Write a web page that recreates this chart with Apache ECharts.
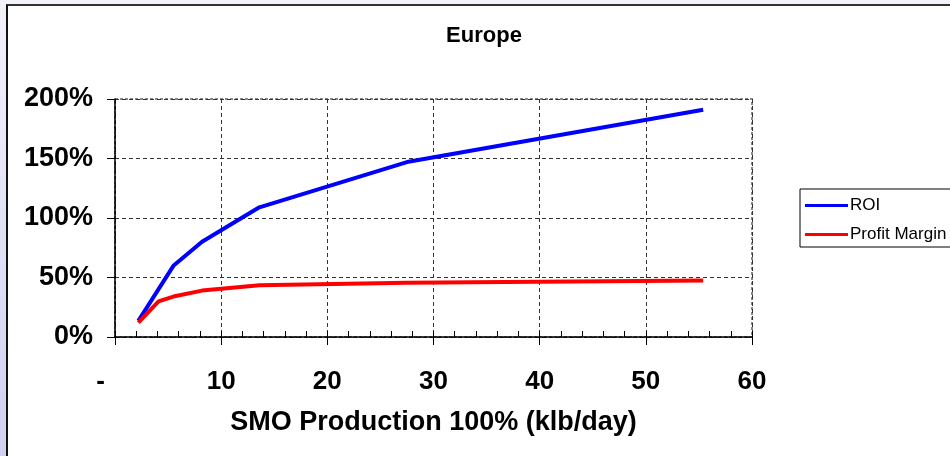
<!DOCTYPE html>
<html>
<head>
<meta charset="utf-8">
<script src="https://cdn.jsdelivr.net/npm/echarts@6/dist/echarts.min.js"></script>
<style>
  html, body { margin: 0; padding: 0; width: 950px; height: 456px; overflow: hidden; }
  body { background: linear-gradient(to bottom, #f2f2fb 0%, #d0d0f0 100%); position: relative; }
  #panel { position: absolute; left: 6px; top: 4px; width: 944px; height: 452px; background: #ffffff;
           border-top: 2px solid #333; border-left: 2px solid #111; box-sizing: border-box; }
  #chart { position: absolute; left: 0; top: 0; width: 950px; height: 456px; }
</style>
</head>
<body>
<div id="panel"></div>
<div id="chart"></div>
<script>
const titleText = 'Europe';
const xAxisName = 'SMO Production 100% (klb/day)';
const seriesNames = ['ROI', 'Profit Margin'];
const roiX = [2.2, 5.5, 8.2, 13.6, 27.5, 55.4];
const roiY = [13.5, 59.8, 80, 109, 147, 191];
const pmX = [2.2, 4.1, 5.5, 8.2, 13.6, 27.5, 55.4];
const pmY = [12, 30, 34, 39, 43.5, 45.5, 47.5];
const xTicks = [0, 10, 20, 30, 40, 50, 60];
const yTicks = [0, 50, 100, 150, 200];

const pairs = (xs, ys) => xs.map((x, i) => [x, ys[i]]);
const font = 'Arial, "Liberation Sans", sans-serif';

const chart = echarts.init(document.getElementById('chart'), null, { renderer: 'canvas' });
chart.setOption({
  backgroundColor: 'transparent',
  animation: false,
  title: {
    text: titleText, left: 479, top: 20, textAlign: 'center',
    textStyle: { fontFamily: font, fontWeight: 'bold', fontSize: 22, color: '#000' }
  },
  legend: {
    orient: 'vertical', left: 800, top: 189,
    padding: [8, 5, 4, 5], itemGap: 12, itemWidth: 43, itemHeight: 3,
    icon: 'rect',
    borderColor: '#000', borderWidth: 1, backgroundColor: '#fff',
    textStyle: { fontFamily: font, fontSize: 17, color: '#000', padding: [0, 0, 0, -3] },
    data: seriesNames
  },
  grid: {
    left: 115, right: 198, top: 99, bottom: 119, show: true,
    borderColor: '#888', borderWidth: 2, borderType: [3, 2], backgroundColor: 'transparent'
  },
  xAxis: [{
    type: 'value', min: xTicks[0], max: xTicks[xTicks.length - 1], interval: 10,
    name: xAxisName, nameLocation: 'middle', nameGap: 72,
    nameTextStyle: { fontFamily: font, fontWeight: 'bold', fontSize: 27, color: '#000' },
    axisLine: { show: true, onZero: false, lineStyle: { color: '#000', width: 1.5 } },
    axisTick: { show: true, inside: false, length: 8, lineStyle: { color: '#000', width: 1 } },
    axisLabel: {
      margin: 32, fontFamily: font, fontWeight: 'bold', fontSize: 26, color: '#000',
      formatter: v => v === 0 ? '-    ' : String(v)
    },
    splitLine: { show: true, lineStyle: { color: '#333', type: [4, 3], width: 1 } }
  }, {
    type: 'value', min: 0, max: 60, interval: 2, position: 'bottom',
    axisLine: { show: false },
    axisTick: { show: true, inside: true, length: 6, lineStyle: { color: '#000', width: 1 } },
    axisLabel: { show: false },
    splitLine: { show: false }
  }],
  yAxis: {
    type: 'value', min: yTicks[0], max: yTicks[yTicks.length - 1], interval: 50,
    axisLine: { show: true, lineStyle: { color: '#000', width: 1.5 } },
    axisTick: { show: true, inside: false, length: 8, lineStyle: { color: '#000', width: 1 } },
    axisLabel: {
      margin: 22, fontFamily: font, fontWeight: 'bold', fontSize: 27, color: '#000',
      formatter: '{value}%'
    },
    splitLine: { show: true, lineStyle: { color: '#333', type: [4, 3], width: 1 } }
  },
  series: [{
    name: seriesNames[0], type: 'line', data: pairs(roiX, roiY), xAxisIndex: 0,
    symbol: 'none', lineStyle: { color: '#0000ff', width: 4 }, itemStyle: { color: '#0000ff' }
  }, {
    name: seriesNames[1], type: 'line', data: pairs(pmX, pmY), xAxisIndex: 0,
    symbol: 'none', lineStyle: { color: '#ff0000', width: 4 }, itemStyle: { color: '#ff0000' }
  }]
});
</script>
</body>
</html>
